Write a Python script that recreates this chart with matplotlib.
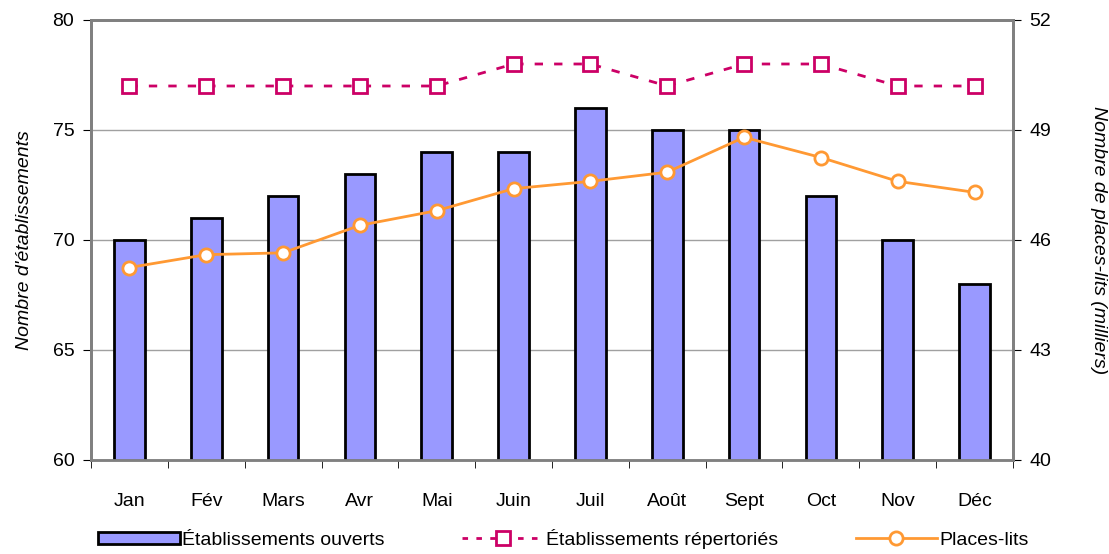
import numpy as np
import matplotlib
matplotlib.use('Agg')
import matplotlib.pyplot as plt
from matplotlib.patches import Patch
from matplotlib.lines import Line2D

plt.rcParams['font.family'] = ['Liberation Sans', 'DejaVu Sans']

# Data
months = ['Jan', 'Fév', 'Mars', 'Avr', 'Mai', 'Juin', 'Juil', 'Août', 'Sept', 'Oct', 'Nov', 'Déc']
etab_ouverts = [70, 71, 72, 73, 74, 74, 76, 75, 75, 72, 70, 68]
etab_repertories = [77, 77, 77, 77, 77, 78, 78, 77, 78, 78, 77, 77]
places_lits = [45.25, 45.6, 45.65, 46.4, 46.8, 47.4, 47.6, 47.85, 48.8, 48.25, 47.6, 47.3]

left_ticks = [60, 65, 70, 75, 80]
right_ticks = [40, 43, 46, 49, 52]

bar_color = '#9999ff'
rep_color = '#cc0066'
pl_color = '#ff9933'
fs = 14

fig = plt.figure(figsize=(11.09, 5.54), dpi=100)
ax = fig.add_axes([91 / 1109, 94 / 554, 922 / 1109, 440 / 554])
ax2 = ax.twinx()

x = np.arange(len(months))

ax.bar(x, etab_ouverts, width=0.4, color=bar_color, edgecolor='black', linewidth=2, zorder=2)
ax.plot(x, etab_repertories, color=rep_color, linestyle=(0, (3, 4)), linewidth=2,
        marker='s', markersize=10, markerfacecolor='white', markeredgecolor=rep_color,
        markeredgewidth=2, zorder=3)
ax2.plot(x, places_lits, color=pl_color, linewidth=2,
         marker='o', markersize=9.5, markerfacecolor='white', markeredgecolor=pl_color,
         markeredgewidth=2, zorder=3)

ax.set_xlim(-0.5, len(months) - 0.5)
ax.set_ylim(60, 80)
ax2.set_ylim(40, 52)
ax.set_yticks(left_ticks)
ax2.set_yticks(right_ticks)

for v in left_ticks[1:-1]:
    ax.axhline(v, color='#a0a0a0', linewidth=1, zorder=1)

# category labels with tick marks between categories
ax.set_xticks(x)
ax.set_xticklabels(months)
ax.tick_params(axis='x', length=0, labelsize=fs, pad=24)
ax.set_xticks(np.arange(-0.5, len(months), 1), minor=True)
ax.tick_params(axis='x', which='minor', length=6, direction='out', color='black')

ax.tick_params(axis='y', labelsize=fs, length=6, direction='out', pad=6)
ax2.tick_params(axis='y', labelsize=fs, length=6, direction='out', pad=6)

for a in (ax, ax2):
    for s in a.spines.values():
        s.set_color('#808080')
        s.set_linewidth(2)
ax.spines['bottom'].set_color('black')
ax.spines['bottom'].set_linewidth(1)

ax.set_ylabel("Nombre d'établissements", fontsize=fs, style='italic', labelpad=14)
ax2.set_ylabel('Nombre de places-lits (milliers)', fontsize=fs, style='italic',
               rotation=270, labelpad=40)

handles = [
    Patch(facecolor=bar_color, edgecolor='black', linewidth=2),
    Line2D([], [], color=rep_color, linestyle=(0, (2, 3)), linewidth=2, marker='s',
           markersize=10, markerfacecolor='white', markeredgecolor=rep_color, markeredgewidth=2),
    Line2D([], [], color=pl_color, linewidth=2, marker='o', markersize=9.5,
           markerfacecolor='white', markeredgecolor=pl_color, markeredgewidth=2),
]
labels = ['Établissements ouverts', 'Établissements répertoriés', 'Places-lits']
fig.legend(handles, labels, loc='center', bbox_to_anchor=(0.508, 15 / 554),
           ncol=3, frameon=False, fontsize=fs, handlelength=4.2, handleheight=0.6,
           handletextpad=0.1, columnspacing=4)

fig.savefig('out.png', dpi=100)
